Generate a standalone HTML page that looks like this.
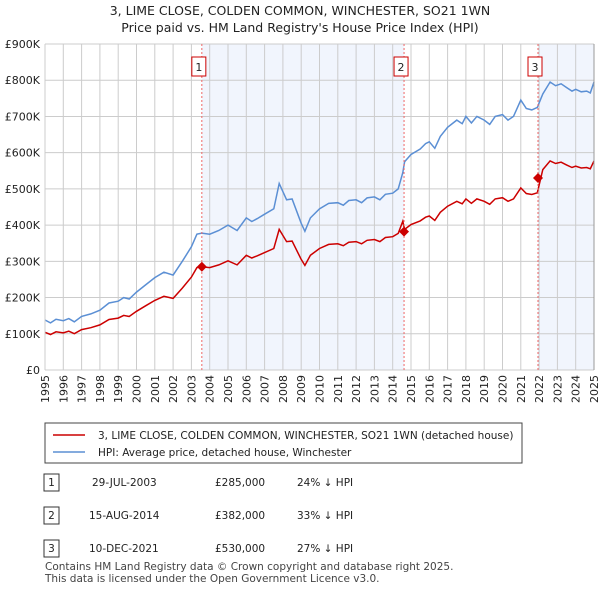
<!DOCTYPE html>
<html><head><meta charset="utf-8"><style>
body{margin:0;background:#fff;font-family:"Liberation Sans","DejaVu Sans",sans-serif;}
svg text{font-family:"DejaVu Sans","Liberation Sans",sans-serif;}
</style></head><body>
<svg id="chart" width="600" height="590" viewBox="0 0 600 590" xmlns="http://www.w3.org/2000/svg">
<text x="300" y="15" text-anchor="middle" font-size="12.5" fill="#222">3, LIME CLOSE, COLDEN COMMON, WINCHESTER, SO21 1WN</text>
<text x="300" y="32" text-anchor="middle" font-size="12.5" fill="#222">Price paid vs. HM Land Registry's House Price Index (HPI)</text>
<g id="plot"></g>
<g>
<rect x="45" y="423" width="477" height="40" fill="#fff" stroke="#444" stroke-width="1"/>
<line x1="53" y1="435" x2="85" y2="435" stroke="#cc0000" stroke-width="1.5"/>
<text x="98" y="439" font-size="10.5" fill="#222">3, LIME CLOSE, COLDEN COMMON, WINCHESTER, SO21 1WN (detached house)</text>
<line x1="53" y1="452" x2="85" y2="452" stroke="#5b8fd4" stroke-width="1.5"/>
<text x="98" y="456" font-size="10.5" fill="#222">HPI: Average price, detached house, Winchester</text>
</g>
<g font-size="10.5" fill="#222">
<rect x="44" y="474" width="15" height="17" fill="#fff" stroke="#333"/><text x="51.5" y="486" text-anchor="middle">1</text>
<text x="92" y="486">29-JUL-2003</text><text x="215" y="486">£285,000</text><text x="297" y="486">24% ↓ HPI</text>
<rect x="44" y="507" width="15" height="17" fill="#fff" stroke="#333"/><text x="51.5" y="519" text-anchor="middle">2</text>
<text x="89" y="519">15-AUG-2014</text><text x="215" y="519">£382,000</text><text x="297" y="519">33% ↓ HPI</text>
<rect x="44" y="540" width="15" height="17" fill="#fff" stroke="#333"/><text x="51.5" y="552" text-anchor="middle">3</text>
<text x="89" y="552">10-DEC-2021</text><text x="215" y="552">£530,000</text><text x="297" y="552">27% ↓ HPI</text>
</g>
<text x="45" y="570" font-size="10.5" fill="#444">Contains HM Land Registry data © Crown copyright and database right 2025.</text>
<text x="45" y="582" font-size="10.5" fill="#444">This data is licensed under the Open Government Licence v3.0.</text>
</svg>
<script>
const hpiYears=[1995,1995.3,1995.6,1996,1996.3,1996.6,1997,1997.5,1998,1998.5,1999,1999.3,1999.6,2000,2000.5,2001,2001.5,2002,2002.5,2003,2003.3,2003.57,2004,2004.5,2005,2005.5,2006,2006.3,2006.6,2007,2007.5,2007.8,2008.2,2008.5,2009,2009.2,2009.5,2010,2010.5,2011,2011.3,2011.6,2012,2012.3,2012.6,2013,2013.3,2013.6,2014,2014.3,2014.55,2014.65,2015,2015.5,2015.8,2016,2016.3,2016.6,2017,2017.5,2017.8,2018,2018.3,2018.6,2019,2019.3,2019.6,2020,2020.3,2020.6,2021,2021.3,2021.6,2021.9,2022.2,2022.6,2022.9,2023.2,2023.5,2023.8,2024,2024.3,2024.6,2024.8,2025];
const hpiValues=[138,130,140,136,142,133,148,155,165,185,190,200,196,215,235,255,270,262,300,340,375,378,375,385,400,385,420,410,418,430,445,515,470,472,405,383,420,445,460,462,455,468,470,462,475,478,470,485,488,500,545,575,595,610,625,630,612,645,670,690,680,700,682,700,690,678,700,705,690,700,745,722,718,725,762,795,785,790,780,770,775,768,770,765,795];
const saleYears=[2003.57,2014.62,2021.94];
const salePrices=[285,382,530];
const saleLabels=["1","2","3"];
const yTicks=[0,100,200,300,400,500,600,700,800,900];
const yTickLabels=["£0","£100K","£200K","£300K","£400K","£500K","£600K","£700K","£800K","£900K"];
const xTicks=[1995,1996,1997,1998,1999,2000,2001,2002,2003,2004,2005,2006,2007,2008,2009,2010,2011,2012,2013,2014,2015,2016,2017,2018,2019,2020,2021,2022,2023,2024,2025];

const X0=45,X1=594,Y0=370,Y1=44;
const xs=y=>X0+(y-1995)/30*(X1-X0);
const ys=v=>Y0-v/900*(Y0-Y1);
const NS="http://www.w3.org/2000/svg";
const g=document.getElementById('plot');
function mk(t,a){const e=document.createElementNS(NS,t);for(const k in a)e.setAttribute(k,a[k]);g.appendChild(e);return e;}
function hpiAt(y){for(let i=0;i<hpiYears.length-1;i++){if(y<=hpiYears[i+1]){const t=(y-hpiYears[i])/(hpiYears[i+1]-hpiYears[i]);return hpiValues[i]+t*(hpiValues[i+1]-hpiValues[i]);}}return hpiValues[hpiValues.length-1];}
let s=mk('rect',{x:xs(saleYears[0]),y:Y1,width:xs(saleYears[1])-xs(saleYears[0]),height:Y0-Y1,fill:'#f1f5fd'});


s=mk('rect',{x:xs(saleYears[2]),y:Y1,width:X1-xs(saleYears[2]),height:Y0-Y1,fill:'#f1f5fd'});


yTicks.forEach((v,i)=>{const l=mk('line',{x1:X0,x2:X1,y1:ys(v),y2:ys(v),stroke:'#ccc','stroke-width':1});


const t=mk('text',{x:40,y:ys(v)+4,'text-anchor':'end','font-size':11,fill:'#222'});t.textContent=yTickLabels[i];

});
xTicks.forEach(yr=>{const l=mk('line',{x1:xs(yr),x2:xs(yr),y1:Y1,y2:Y0,stroke:'#ccc','stroke-width':1});


const t=mk('text',{x:0,y:0,'text-anchor':'end','font-size':11,fill:'#222',transform:`translate(${xs(yr)+4},375) rotate(-90)`});t.textContent=yr;

});
let d=hpiYears.map((y,i)=>(i?'L':'M')+xs(y).toFixed(1)+','+ys(hpiValues[i]).toFixed(1)).join('');
let p=mk('path',{d:d,fill:'none',stroke:'#5b8fd4','stroke-width':1.5});


const ratios=saleYears.map((y,i)=>salePrices[i]/hpiAt(y));
d=hpiYears.map((y,i)=>{let r=ratios[0];for(let k=1;k<saleYears.length;k++)if(y>=saleYears[k])r=ratios[k];return (i?'L':'M')+xs(y).toFixed(1)+','+ys(hpiValues[i]*r).toFixed(1);}).join('');
p=mk('path',{d:d,fill:'none',stroke:'#cc0000','stroke-width':1.5});


saleYears.forEach((y,i)=>{const x=xs(y);
const l=mk('line',{x1:x,x2:x,y1:Y1,y2:Y0,stroke:'#e66','stroke-width':1,'stroke-dasharray':'2,2'});


const dm=mk('path',{d:`M${x},${ys(salePrices[i])-5}l5,5l-5,5l-5,-5z`,fill:'#cc0000'});


const r=mk('rect',{x:x-10,y:57,width:14,height:19,fill:'#fff',stroke:'#cc0000'});


const t=mk('text',{x:x-3,y:71,'text-anchor':'middle','font-size':11,fill:'#222'});t.textContent=saleLabels[i];

});
mk('line',{x1:X0,x2:X0,y1:Y1,y2:Y0,stroke:'#ccc'});
mk('line',{x1:X1,x2:X1,y1:Y1,y2:Y0,stroke:'#999'});
</script>
</body></html>
